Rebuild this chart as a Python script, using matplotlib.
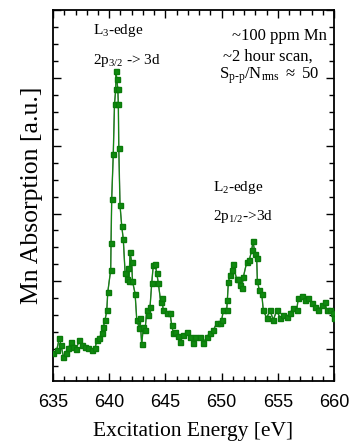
import matplotlib
matplotlib.use("Agg")
import matplotlib.pyplot as plt
from matplotlib.ticker import MultipleLocator

energy = [635.03, 635.33, 635.56, 635.71, 635.92, 636.13, 636.36, 636.60, 636.81, 637.05,
          637.34, 637.55, 637.85, 638.14, 638.44, 638.74, 638.89, 639.12, 639.33, 639.48,
          639.63, 639.78, 639.87, 640.13, 640.16, 640.22, 640.36, 640.47, 640.58, 640.60,
          640.67, 640.76, 640.81, 640.85, 640.96, 641.11, 641.25, 641.41, 641.56, 641.70,
          641.76, 641.85, 642.00, 642.07, 642.30, 642.45, 642.68, 642.74, 642.89, 643.03,
          643.19, 643.34, 643.48, 643.63, 643.78, 643.92, 644.07, 644.23, 644.37, 644.58,
          644.67, 644.81, 645.12, 645.41, 645.56, 645.70, 645.85, 646.12, 646.30, 646.59,
          646.89, 647.19, 647.43, 647.63, 648.08, 648.37, 648.67, 648.97, 649.26, 649.56,
          649.86, 650.01, 650.15, 650.45, 650.51, 650.60, 650.75, 650.90, 651.01, 651.34,
          651.49, 651.64, 651.79, 651.93, 652.23, 652.46, 652.68, 652.79, 652.97, 653.12,
          653.18, 653.35, 653.57, 653.71, 654.01, 654.31, 654.60, 654.90, 655.20, 655.49,
          655.79, 656.09, 656.38, 656.68, 656.82, 657.13, 657.42, 657.71, 658.02, 658.31,
          658.60, 658.91, 659.20, 659.35, 659.64, 659.94, 660.00]
absorption = [-0.06, -0.01, 0.16, 0.06, -0.11, -0.06, 0.01, 0.11, 0.03, 0.00,
              0.13, 0.06, 0.03, 0.01, -0.01, 0.01, 0.13, 0.16, 0.24, 0.33,
              0.43, 0.57, 0.84, 1.17, 1.56, 2.22, 2.88, 3.62, 3.84, 4.10,
              3.99, 3.84, 3.62, 2.96, 2.12, 1.82, 1.62, 1.13, 1.04, 1.19,
              1.00, 1.43, 1.28, 1.00, 0.82, 0.43, 0.31, 0.46, 0.07, 0.32,
              0.28, 0.57, 0.50, 0.62, 0.97, 1.24, 1.26, 1.12, 0.97, 0.70,
              0.76, 0.57, 0.54, 0.53, 0.35, 0.24, 0.25, 0.19, 0.10, 0.21,
              0.25, 0.18, 0.09, 0.18, 0.18, 0.09, 0.18, 0.24, 0.28, 0.38,
              0.38, 0.43, 0.57, 0.57, 0.72, 0.99, 1.09, 1.16, 1.26, 1.03,
              1.04, 0.94, 0.90, 1.06, 1.28, 1.31, 1.46, 1.59, 1.41, 1.35,
              1.01, 0.87, 0.82, 0.57, 0.46, 0.57, 0.43, 0.57, 0.46, 0.50,
              0.47, 0.54, 0.60, 0.57, 0.75, 0.79, 0.72, 0.75, 0.68, 0.62,
              0.57, 0.65, 0.69, 0.57, 0.57, 0.54, 0.46]
xticks = [635, 640, 645, 650, 655, 660]

plt.rcParams['mathtext.fontset'] = 'custom'
plt.rcParams['mathtext.rm'] = 'Liberation Serif'
plt.rcParams['mathtext.it'] = 'Liberation Serif'

fig = plt.figure(figsize=(3.49, 4.42), dpi=100)
ax = fig.add_axes([0.152, 0.138, 0.805, 0.839])

ax.plot(energy, absorption, color='#6a6a6a', lw=1.0, zorder=2)
ax.plot(energy, absorption, color='#0f8a0f', lw=0.8, marker='s', ms=3.6,
        mec='#0a7a0a', mfc='#0f8a0f', zorder=3)

ax.set_xlim(635, 660)
ax.set_ylim(-0.47, 5.0)
ax.set_xticks(xticks)
ax.set_xticklabels([str(t) for t in xticks], fontsize=13, family='Liberation Sans')
ax.xaxis.set_minor_locator(MultipleLocator(1))
ax.yaxis.set_major_locator(MultipleLocator(1))
ax.yaxis.set_minor_locator(MultipleLocator(0.25))
ax.set_yticklabels([])
ax.tick_params(which='both', direction='in', top=True, right=True, width=1.0)
ax.tick_params(which='major', length=6, pad=9)
ax.tick_params(which='minor', length=3.5)
for s in ax.spines.values():
    s.set_linewidth(1.3)

ax.set_xlabel('Excitation Energy [eV]', family='Liberation Serif', fontsize=15.5)
ax.xaxis.set_label_coords(0.5, -0.11)
ax.set_ylabel('Mn Absorption [a.u.]', family='Liberation Serif', fontsize=18.5)
ax.yaxis.set_label_coords(-0.035, 0.5)

tk = dict(family='Liberation Serif', fontsize=11, va='baseline', transform=ax.transData)
tr = dict(tk, fontsize=12, ha='right')
ax.text(638.56, 4.65, r'L$_{3}$-edge', **tk)
ax.text(638.56, 4.21, r'2p$_{3/2}$ -> 3d', **tk)
ax.text(659.4, 4.56, r'~100 ppm Mn', **tr)
ax.text(658.1, 4.26, r'~2 hour scan,', **tr)
ax.text(658.75, 3.99, r'S$_{p\text{-}p}$/N$_{rms}$ $\approx$ 50', **tr)
ax.text(649.2, 2.34, r'L$_{2}$-edge', **tk)
ax.text(649.2, 1.90, r'2p$_{1/2}$->3d', **tk)

fig.savefig('out.png', dpi=100)
